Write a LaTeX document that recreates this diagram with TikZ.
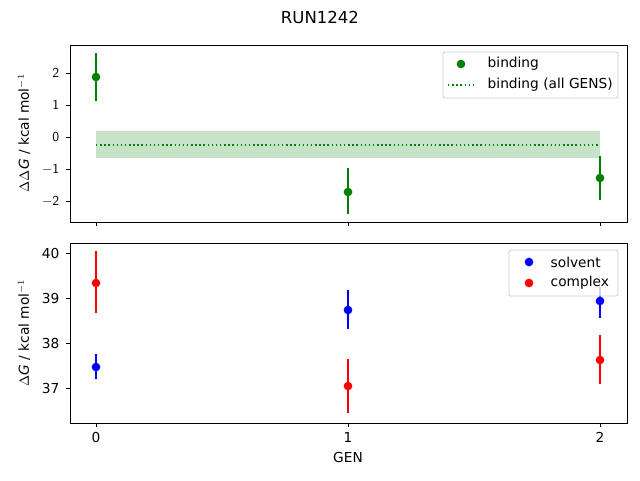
\documentclass[tikz,border=0pt]{standalone}
\usepackage{fontspec}
\setmainfont{DejaVu Sans}
\begin{document}
\begin{tikzpicture}[x=0.75pt,y=-0.75pt,font=\fontsize{10.3}{12}\selectfont,
  ax/.style={line width=0.6pt},
  tk/.style={line width=0.6pt},
  eb/.style={line width=1.1pt},
  dot/.style={circle,fill,inner sep=0pt,minimum size=6.5pt},
  lg/.style={draw=black!20,fill=white,fill opacity=0.8,text opacity=1,rounded corners=1.5pt,line width=0.6pt}]
\useasboundingbox (0,0) rectangle (640,480);
\node (title) at (320,17) {\fontsize{12.4}{14}\selectfont RUN1242};
% top axes
\fill[green!50!black,opacity=0.22] (96,131) rectangle (600,158);
\draw[green!50!black,dotted,line width=1.1pt] (96,145) -- (600,145);
\foreach \x/\y/\a/\b in {96/77/53/101,348/192/168/214,600/178/156/200}{
  \draw[eb,green!50!black] (\x,\a) -- (\x,\b);
  \node[dot,fill=green!50!black] at (\x,\y) {};}
\draw[ax] (70,45) rectangle (627,222);
\foreach \v/\y in {2/73,1/105,0/137,-1/169,-2/201}{
  \draw[tk] (70,\y) -- (66,\y);
  \node[anchor=east] at (64,\y) {$\mathsf{\v}$};}
\foreach \x in {96,348,600}{\draw[tk] (\x,222) -- (\x,226);}
\node[rotate=90] (yl1) at (24,133) {$\Delta\Delta \mathit{G}$ / kcal mol$^{-1}$};
\draw[lg] (443,52) rectangle (618,98);
\node[dot,fill=green!50!black] (l1) at (461,64) {};
\node[anchor=west] at (483,64) {binding};
\draw[green!50!black,dotted,line width=1.1pt] (448,85) -- (476,85);
\node[anchor=west] at (483,85) {binding (all GENS)};
% bottom axes
\foreach \x/\y/\a/\b in {96/367/354/379,348/310/290/329,600/301/287/318}{
  \draw[eb,blue] (\x,\a) -- (\x,\b);
  \node[dot,fill=blue] at (\x,\y) {};}
\foreach \x/\y/\a/\b in {96/283/251/313,348/386/359/413,600/360/335/384}{
  \draw[eb,red] (\x,\a) -- (\x,\b);
  \node[dot,fill=red] at (\x,\y) {};}
\draw[ax] (70,243) rectangle (627,423);
\foreach \v/\y in {40/253,39/298,38/343,37/388}{
  \draw[tk] (70,\y) -- (66,\y);
  \node[anchor=east] at (64,\y) {\v};}
\foreach \x/\v in {96/0,348/1,600/2}{\draw[tk] (\x,423) -- (\x,427);
  \node[anchor=north] at (\x,428) {\v};}
\node (xl) at (348,457) {GEN};
\node[rotate=90] (yl2) at (24,333) {$\Delta \mathit{G}$ / kcal mol$^{-1}$};
\draw[lg] (509,250) rectangle (618,296);
\node[dot,fill=blue] at (529,262) {};
\node[anchor=west] at (546,262) {solvent};
\node[dot,fill=red] at (529,283) {};
\node[anchor=west] at (546,283) {complex};
\end{tikzpicture}
\end{document}
